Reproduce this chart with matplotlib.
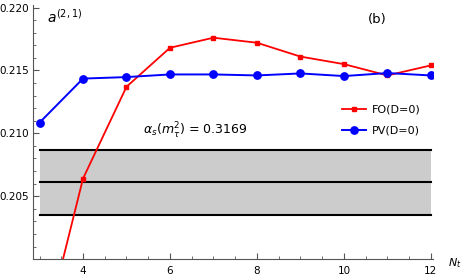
import matplotlib
matplotlib.use("Agg")
import matplotlib.pyplot as plt
from matplotlib.ticker import MultipleLocator, FixedLocator

nt = [3, 4, 5, 6, 7, 8, 9, 10, 11, 12]
fo = [0.1925, 0.2064, 0.2137, 0.2168, 0.2176, 0.2172, 0.2161, 0.2155, 0.2146, 0.2154]
pv = [0.21085, 0.21435, 0.21447, 0.21468, 0.21468, 0.2146, 0.21476, 0.21455, 0.21479, 0.2146]
band_x = [3, 12]
band_lo, band_mid, band_hi = 0.2035, 0.2061, 0.2087
xticks = [4, 6, 8, 10, 12]
yticks = [0.205, 0.210, 0.215, 0.220]

fig = plt.figure(figsize=(4.63, 2.78), dpi=100)
ax = fig.add_axes([0.0713, 0.068, 0.864, 0.914])

ax.fill_between(band_x, [band_lo]*2, [band_hi]*2, color="#cccccc", lw=0, zorder=1)
for v in (band_lo, band_mid, band_hi):
    ax.plot(band_x, [v, v], color="black", lw=1.5, zorder=2)

ax.plot(nt, fo, color="#ff0000", lw=1.3, marker="s", ms=3.5, label="FO(D=0)", zorder=3)
ax.plot(nt, pv, color="#0000ff", lw=1.4, marker="o", ms=5.3, label="PV(D=0)", zorder=4)

ax.set_xlim(2.85, 12.05)
ax.set_ylim(0.2, 0.2202)
for s in ("top", "right"):
    ax.spines[s].set_visible(False)
for s in ("left", "bottom"):
    ax.spines[s].set_color("#555555")
    ax.spines[s].set_linewidth(0.8)

ax.xaxis.set_major_locator(FixedLocator(xticks))
ax.xaxis.set_minor_locator(MultipleLocator(0.5))
ax.yaxis.set_major_locator(FixedLocator(yticks))
ax.yaxis.set_minor_locator(MultipleLocator(0.001))
ax.set_xticklabels([str(x) for x in xticks])
ax.set_yticklabels(["%.3f" % y for y in yticks])
ax.tick_params(which="major", direction="in", length=4, width=0.8, color="#555555", labelsize=7.5, pad=3)
ax.tick_params(axis="x", which="major", pad=5)
ax.tick_params(which="minor", direction="in", length=2, width=0.6, color="#555555")

ax.text(0.035, 0.93, r"$a^{(2,1)}$", transform=ax.transAxes, fontsize=10)
fig.text(368/463, 1 - 20/278, "(b)", fontsize=9.5, ha="left", va="center")
ax.text(195/463, 1 - 131/278, r"$\alpha_s(m_\tau^2)$ = 0.3169", transform=fig.transFigure,
        fontsize=9, ha="center", va="center")
fig.text(455/463, 1 - 263/278, r"$N_t$", fontsize=8, ha="center", va="center")

ax.legend(loc="center left", bbox_to_anchor=(332/463, 1 - 120/278), bbox_transform=fig.transFigure,
          frameon=False, fontsize=8, handlelength=2.2, handletextpad=0.5, labelspacing=1.0)

fig.savefig("out.png", dpi=100)
